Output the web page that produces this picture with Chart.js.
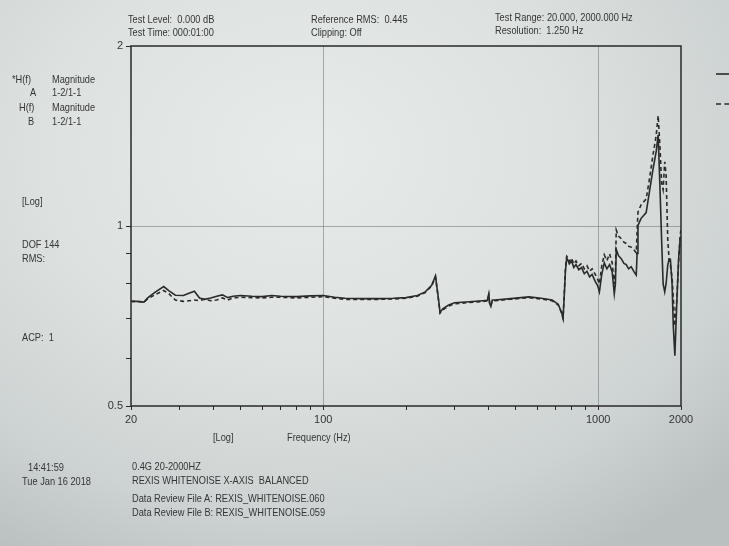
<!DOCTYPE html>
<html>
<head>
<meta charset="utf-8">
<title>H(f) Magnitude – REXIS WHITENOISE X-AXIS</title>
<script src="https://cdn.jsdelivr.net/npm/chart.js@4/dist/chart.umd.min.js"></script>
<style>
  html, body { margin: 0; padding: 0; }
  body {
    width: 729px; height: 546px; overflow: hidden; position: relative;
    background: radial-gradient(ellipse 80% 85% at 42% 28%, #e7ebe9 0%, #dde2e0 45%, #cdd3d2 78%, #bac0bf 100%);
    font-family: "Liberation Sans", Arial, sans-serif;
    color: #353535;
  }
  #plot { position: absolute; left: 0; top: 0; }
  .t { position: absolute; font-size: 11px; line-height: 13px; white-space: pre; transform: scaleX(0.84); transform-origin: 0 0; }
</style>
</head>
<body>
<canvas id="plot" width="729" height="546"></canvas>

<div class="t" style="left:128px;top:13px">Test Level:  0.000 dB</div>
<div class="t" style="left:128px;top:26px">Test Time: 000:01:00</div>
<div class="t" style="left:311px;top:13px">Reference RMS:  0.445</div>
<div class="t" style="left:311px;top:26px">Clipping: Off</div>
<div class="t" style="left:495px;top:11px">Test Range: 20.000, 2000.000 Hz</div>
<div class="t" style="left:495px;top:24px">Resolution:  1.250 Hz</div>

<div class="t" style="left:12px;top:73px">*H(f)</div>
<div class="t" style="left:52px;top:73px">Magnitude</div>
<div class="t" style="left:30px;top:86px">A</div>
<div class="t" style="left:52px;top:86px">1-2/1-1</div>
<div class="t" style="left:19px;top:101px">H(f)</div>
<div class="t" style="left:52px;top:101px">Magnitude</div>
<div class="t" style="left:28px;top:115px">B</div>
<div class="t" style="left:52px;top:115px">1-2/1-1</div>

<div class="t" style="left:22px;top:195px">[Log]</div>
<div class="t" style="left:22px;top:238px">DOF 144</div>
<div class="t" style="left:22px;top:252px">RMS:</div>
<div class="t" style="left:22px;top:331px">ACP:  1</div>

<div class="t" style="left:213px;top:431px">[Log]</div>
<div class="t" style="left:287px;top:431px">Frequency (Hz)</div>

<div class="t" style="left:28px;top:461px">14:41:59</div>
<div class="t" style="left:22px;top:475px">Tue Jan 16 2018</div>
<div class="t" style="left:132px;top:460px">0.4G 20-2000HZ</div>
<div class="t" style="left:132px;top:474px">REXIS WHITENOISE X-AXIS  BALANCED</div>
<div class="t" style="left:132px;top:492px">Data Review File A: REXIS_WHITENOISE.060</div>
<div class="t" style="left:132px;top:506px">Data Review File B: REXIS_WHITENOISE.059</div>

<script>
// Frequency points (Hz) shared by both traces
const freq = [
  20, 21, 22.3, 23, 24.5, 26.3, 27.5, 29, 31, 32.5,
  34, 35.5, 37, 39, 41, 43, 45, 47, 50, 55,
  60, 65, 70, 80, 90, 100, 110, 120, 140, 160,
  180, 200, 220, 235, 248, 256, 262, 266, 272, 285,
  300, 340, 380, 395, 400, 403, 407, 412, 420, 480,
  560, 620, 680, 715, 735, 745, 752, 760, 768, 775,
  785, 800, 815, 830, 850, 870, 890, 910, 930, 950,
  975, 995, 1010, 1030, 1052, 1075, 1100, 1124, 1144, 1155,
  1163, 1185, 1213, 1240, 1264, 1290, 1318, 1350, 1375, 1385,
  1395, 1432, 1494, 1530, 1580, 1624, 1652, 1678, 1700, 1722,
  1745, 1765, 1790, 1810, 1830, 1856, 1875, 1900, 1930, 1960,
  1985, 2000
];

// Trace A: H(f) magnitude, file REXIS_WHITENOISE.060 (solid)
const magA = [
  0.748, 0.748, 0.746, 0.758, 0.775, 0.792, 0.779, 0.766, 0.765, 0.772,
  0.778, 0.758, 0.754, 0.758, 0.763, 0.767, 0.759, 0.763, 0.765, 0.763,
  0.762, 0.765, 0.763, 0.762, 0.764, 0.765, 0.760, 0.757, 0.756, 0.756,
  0.757, 0.759, 0.765, 0.776, 0.796, 0.825, 0.760, 0.717, 0.727, 0.737,
  0.744, 0.747, 0.750, 0.751, 0.770, 0.742, 0.734, 0.752, 0.752, 0.756,
  0.761, 0.757, 0.752, 0.740, 0.718, 0.702, 0.760, 0.840, 0.884, 0.878,
  0.864, 0.874, 0.852, 0.862, 0.845, 0.852, 0.832, 0.840, 0.822, 0.830,
  0.808, 0.795, 0.776, 0.830, 0.868, 0.848, 0.862, 0.838, 0.770, 0.800,
  0.914, 0.892, 0.882, 0.866, 0.862, 0.848, 0.855, 0.838, 0.828, 0.900,
  1.002, 1.030, 1.053, 1.130, 1.240, 1.330, 1.420, 1.150, 0.950, 0.800,
  0.776, 0.800, 0.860, 0.880, 0.880, 0.800, 0.680, 0.607, 0.740, 0.880,
  0.950, 0.960
];

// Trace B: H(f) magnitude, file REXIS_WHITENOISE.059 (dashed)
const magB = [
  0.748, 0.748, 0.746, 0.755, 0.768, 0.780, 0.770, 0.752, 0.748, 0.750,
  0.752, 0.750, 0.754, 0.750, 0.752, 0.758, 0.752, 0.758, 0.760, 0.759,
  0.758, 0.760, 0.760, 0.758, 0.760, 0.762, 0.757, 0.754, 0.754, 0.754,
  0.755, 0.757, 0.763, 0.774, 0.794, 0.822, 0.758, 0.715, 0.724, 0.734,
  0.741, 0.745, 0.748, 0.749, 0.766, 0.740, 0.736, 0.750, 0.750, 0.754,
  0.759, 0.755, 0.750, 0.738, 0.716, 0.700, 0.765, 0.850, 0.890, 0.886,
  0.872, 0.884, 0.864, 0.874, 0.858, 0.866, 0.848, 0.858, 0.840, 0.848,
  0.830, 0.815, 0.800, 0.858, 0.895, 0.875, 0.898, 0.868, 0.800, 0.840,
  0.985, 0.962, 0.952, 0.940, 0.935, 0.925, 0.922, 0.912, 0.902, 0.980,
  1.055, 1.085, 1.110, 1.185, 1.310, 1.415, 1.530, 1.350, 1.180, 1.150,
  1.280, 1.220, 0.950, 0.880, 0.860, 0.820, 0.760, 0.680, 0.750, 0.870,
  0.960, 0.990
];

// Axis ticks: marks at every position, labels only where listed
const xTickValues = [20, 30, 40, 50, 60, 70, 80, 90, 100, 200, 300, 400, 500, 600, 700, 800, 900, 1000, 2000];
const xTickLabels = { 20: '20', 100: '100', 1000: '1000', 2000: '2000' };
const xGridAt = [100, 1000];
const yTickValues = [0.5, 0.6, 0.7, 0.8, 0.9, 1, 2];
const yTickLabels = { 0.5: '0.5', 1: '1', 2: '2' };
const yGridAt = [1];

const ink = '#2a2a2a';
const gridInk = 'rgba(110,116,116,0.55)';
const labelFont = { family: '"Liberation Sans", Arial, sans-serif', size: 11 };

const toPoints = vals => freq.map((f, i) => ({ x: f, y: vals[i] }));

// Plot frame and the A/B line-style key at the right edge
const framePlugin = {
  id: 'frame',
  afterDraw(chart) {
    const { ctx, chartArea: a } = chart;
    ctx.save();
    ctx.strokeStyle = ink;
    ctx.lineWidth = 1.5;
    ctx.strokeRect(a.left, a.top, a.right - a.left, a.bottom - a.top);

    const x0 = a.right + 35, x1 = chart.width;
    ctx.lineWidth = 1.6;
    ctx.beginPath(); ctx.moveTo(x0, 74); ctx.lineTo(x1, 74); ctx.stroke();
    ctx.setLineDash([5, 3.5]);
    ctx.beginPath(); ctx.moveTo(x0, 104); ctx.lineTo(x1, 104); ctx.stroke();
    ctx.restore();
  }
};

new Chart(document.getElementById('plot'), {
  type: 'line',
  data: {
    datasets: [
      { label: 'A', data: toPoints(magA), borderColor: ink, borderWidth: 1.6, pointRadius: 0, tension: 0, fill: false },
      { label: 'B', data: toPoints(magB), borderColor: ink, borderWidth: 1.6, borderDash: [4, 3], pointRadius: 0, tension: 0, fill: false }
    ]
  },
  options: {
    responsive: false,
    animation: false,
    events: [],
    layout: { padding: { left: 0, top: 46, right: 48, bottom: 110 } },
    plugins: { legend: { display: false }, tooltip: { enabled: false } },
    scales: {
      x: {
        type: 'logarithmic', min: 20, max: 2000,
        afterBuildTicks: s => { s.ticks = xTickValues.map(v => ({ value: v })); },
        afterFit: s => { s.height = 30; },
        ticks: {
          autoSkip: false, maxRotation: 0, minRotation: 0, padding: 3,
          color: '#353535', font: labelFont,
          callback: v => xTickLabels[v] || ''
        },
        grid: {
          color: c => (c.tick && xGridAt.includes(c.tick.value)) ? gridInk : 'rgba(0,0,0,0)',
          lineWidth: 1,
          tickLength: 4,
          tickColor: ink
        },
        border: { display: false }
      },
      y: {
        type: 'logarithmic', min: 0.5, max: 2,
        afterBuildTicks: s => { s.ticks = yTickValues.map(v => ({ value: v })); },
        afterFit: s => { s.width = 131; },
        ticks: {
          autoSkip: false, padding: 3,
          color: '#353535', font: labelFont,
          callback: v => yTickLabels[v] || ''
        },
        grid: {
          color: c => (c.tick && yGridAt.includes(c.tick.value)) ? gridInk : 'rgba(0,0,0,0)',
          lineWidth: 1,
          tickLength: 5,
          tickColor: ink
        },
        border: { display: false }
      }
    }
  },
  plugins: [framePlugin]
});
</script>
</body>
</html>
